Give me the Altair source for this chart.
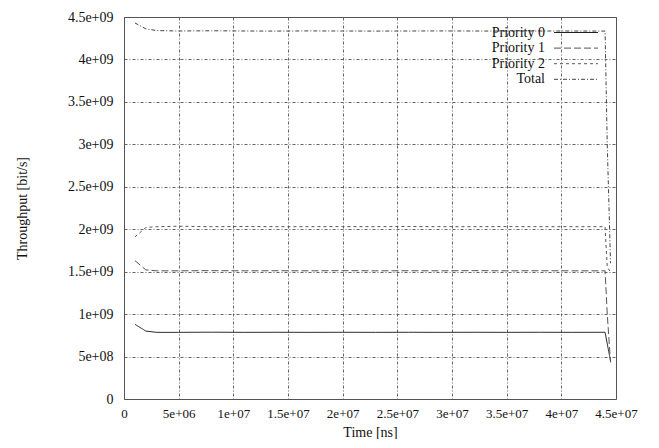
import altair as alt
import pandas as pd

series = ["Priority 0", "Priority 1", "Priority 2", "Total"]

times = [1.0e6, 2.0e6, 3.0e6, 5.0e6, 8.0e6, 1.1e7, 1.4e7, 1.7e7, 2.0e7, 2.3e7,
         2.6e7, 2.9e7, 3.2e7, 3.5e7, 3.8e7, 4.1e7, 4.4e7]
p0 = [0.88e9, 0.80e9, 0.785e9, 0.785e9, 0.787e9, 0.785e9, 0.786e9, 0.785e9, 0.786e9,
      0.785e9, 0.786e9, 0.785e9, 0.786e9, 0.785e9, 0.786e9, 0.785e9, 0.786e9]
p1 = [1.63e9, 1.52e9, 1.51e9, 1.51e9, 1.512e9, 1.51e9, 1.511e9, 1.51e9, 1.512e9,
      1.51e9, 1.511e9, 1.51e9, 1.512e9, 1.51e9, 1.511e9, 1.51e9, 1.51e9]
p2 = [1.91e9, 2.02e9, 2.03e9, 2.035e9, 2.03e9, 2.032e9, 2.03e9, 2.03e9, 2.031e9,
      2.03e9, 2.032e9, 2.03e9, 2.03e9, 2.031e9, 2.03e9, 2.03e9, 2.03e9]
total = [4.43e9, 4.36e9, 4.34e9, 4.335e9, 4.338e9, 4.335e9, 4.334e9, 4.336e9, 4.335e9,
         4.334e9, 4.335e9, 4.336e9, 4.335e9, 4.334e9, 4.335e9, 4.335e9, 4.334e9]

end_times = [4.42e7, 4.45e7]
p0_end = [0.65e9, 0.45e9]
p1_end = [1.0e9, 0.43e9]
p2_end = [1.55e9, 1.5e9]
total_end = [3.0e9, 1.6e9]

x_ticks = [0, 5e6, 1e7, 1.5e7, 2e7, 2.5e7, 3e7, 3.5e7, 4e7, 4.5e7]
y_ticks = [0, 5e8, 1e9, 1.5e9, 2e9, 2.5e9, 3e9, 3.5e9, 4e9, 4.5e9]

colors = ["#222222", "#555555", "#555555", "#444444"]
dashes = [[1, 0], [7, 3], [3, 3], [4, 2, 1, 2]]

FONT = "'Liberation Serif', 'DejaVu Serif', serif"

rows = []
for name, vals, ends in zip(series, [p0, p1, p2, total], [p0_end, p1_end, p2_end, total_end]):
    for t, v in zip(times + end_times, vals + ends):
        rows.append({"time": t, "value": v, "series": name})
df = pd.DataFrame(rows)

fmt = "datum.value == 0 ? '0' : replace(format(datum.value, '.2~e'), 'e+', 'e+0')"

W, H = 492, 382

lines = alt.Chart(df).mark_line(strokeWidth=1, clip=True).encode(
    x=alt.X("time:Q", title="Time [ns]",
            scale=alt.Scale(domain=[0, 4.5e7], nice=False, zero=False),
            axis=alt.Axis(values=x_ticks, labelExpr=fmt, titleY=33, titleBaseline="middle",
                          labelPadding=8, labelOverlap=False, labelBound=False,
                          labelFlush=False, labelFontSize=13)),
    y=alt.Y("value:Q", title="Throughput [bit/s]",
            scale=alt.Scale(domain=[0, 4.5e9], nice=False),
            axis=alt.Axis(values=y_ticks, labelExpr=fmt, titleX=-102, titleY=H / 2,
                          titleAngle=270, titleAlign="center", titleBaseline="middle",
                          labelPadding=11, labelOverlap=False, labelFlush=False)),
    color=alt.Color("series:N", scale=alt.Scale(domain=series, range=colors), legend=None),
    strokeDash=alt.StrokeDash("series:N", scale=alt.Scale(domain=series, range=dashes), legend=None),
    detail="series:N",
)

layers = [lines]
for i, name in enumerate(series):
    one = pd.DataFrame({"series": [name]})
    yy = 15.5 + i * 15.6
    layers.append(alt.Chart(one).mark_text(align="right", baseline="middle", fontSize=14,
                                           font=FONT, color="#111").encode(
        text="series:N", x=alt.value(421), y=alt.value(yy)))
    layers.append(alt.Chart(one).mark_rule(strokeWidth=1, color=colors[i], strokeDash=dashes[i]).encode(
        x=alt.value(430), x2=alt.value(474), y=alt.value(yy)))

chart = alt.layer(*layers).properties(
    width=W, height=H,
    autosize=alt.AutoSizeParams(type="none"),
    padding={"left": 116, "top": 9, "right": 28, "bottom": 40},
).configure(
    font=FONT,
).configure_axis(
    grid=True, gridColor="#555555", gridDash=[3, 2, 1, 2], gridWidth=1, gridOpacity=0.9,
    ticks=False, domain=False,
    labelFont=FONT, labelFontSize=14, labelColor="#111",
    titleFont=FONT, titleFontSize=14, titleFontWeight="normal", titleColor="#111",
).configure_view(
    stroke="#555555", strokeWidth=1,
)

chart.save("out.html", embed_options={"renderer": "svg", "actions": False})
